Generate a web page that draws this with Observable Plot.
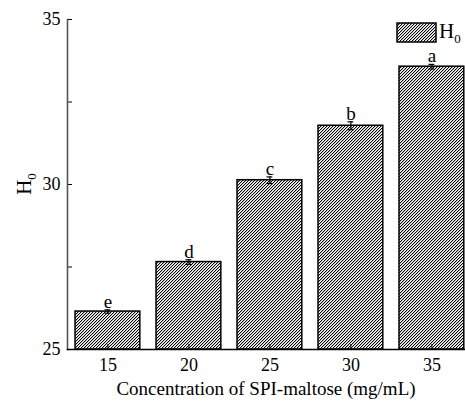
<!DOCTYPE html>
<html>
<head>
<meta charset="utf-8">
<script src="https://cdn.jsdelivr.net/npm/d3@7"></script>
<script src="https://cdn.jsdelivr.net/npm/@observablehq/plot@0.6"></script>
<style>
  body { margin: 0; background: #fff; }
  #chart svg { font-family: "Liberation Serif", "Times New Roman", serif; }
</style>
</head>
<body>
<div id="chart"></div>
<script>
// Surface hydrophobicity H0 by SPI-maltose concentration
const concentrations = ["15", "20", "25", "30", "35"];
const h0Values = [26.15, 27.65, 30.13, 31.78, 33.57];
const h0Errors = [0.05, 0.07, 0.10, 0.12, 0.07];
const sigLetters = ["e", "d", "c", "b", "a"];
const yTicks = [25, 27.5, 30, 32.5, 35];
const yTickLabels = ["25", "", "30", "", "35"];
const xTitle = "Concentration of SPI-maltose (mg/mL)";
const seriesName = "H";
const seriesSub = "0";

const rows = concentrations.map((c, i) => ({
  c, v: h0Values[i], e: h0Errors[i], s: sigLetters[i]
}));

const plot = Plot.plot({
  width: 465,
  height: 401,
  marginLeft: 67,
  marginRight: 0,
  marginTop: 19,
  marginBottom: 52,
  style: { fontFamily: "'Liberation Serif', 'Times New Roman', serif", fontSize: "18px", color: "black", background: "white", overflow: "visible" },
  x: { domain: concentrations, paddingInner: 0.2, paddingOuter: 0.057, align: 0.87, round: false, label: null, axis: null },
  y: { domain: [25, 35], label: null, axis: null },
  marks: [
    Plot.barY(rows, { x: "c", y1: 25, y2: "v", inset: 0, fill: "url(#hatch)", stroke: "black", strokeWidth: 1.5 }),
    Plot.ruleX(rows, { x: "c", y1: d => d.v - d.e, y2: d => d.v + d.e, stroke: "black", strokeWidth: 1.2 }),
    Plot.tickY(rows, { x: "c", y: d => d.v + d.e, inset: 29.5, stroke: "black", strokeWidth: 1.2 }),
    Plot.tickY(rows, { x: "c", y: d => d.v - d.e, inset: 29.5, stroke: "black", strokeWidth: 1.2 }),
    Plot.text(rows, { x: "c", y: d => d.v + d.e, text: "s", lineAnchor: "bottom", dy: -2, fontSize: 19, fill: "black" }),
    Plot.axisY({ ticks: yTicks, tickFormat: (d) => yTickLabels[yTicks.indexOf(d)], tickSize: -5, tickPadding: 12, stroke: "black", label: null }),
    Plot.axisX({ tickSize: -5, tickPadding: 14, label: null }),
    Plot.frame({ anchor: "left", stroke: "#555", strokeWidth: 1.6 }),
    Plot.frame({ anchor: "bottom", stroke: "black", strokeWidth: 1.6 })
  ]
});

const svg = d3.select(plot);

// pixel-aligned "/" hatch fill used by the bars and the legend swatch
const pat = svg.insert("defs", ":first-child")
  .append("pattern")
  .attr("id", "hatch")
  .attr("patternUnits", "userSpaceOnUse")
  .attr("width", 3)
  .attr("height", 3);
pat.append("rect").attr("width", 3).attr("height", 3).attr("fill", "white");
[[0, 2], [1, 1], [2, 0]].forEach(([cx, cy]) =>
  pat.append("rect").attr("x", cx).attr("y", cy).attr("width", 1).attr("height", 1)
    .attr("fill", "black").attr("shape-rendering", "crispEdges"));
[[1, 2], [2, 1], [0, 0]].forEach(([cx, cy]) =>
  pat.append("rect").attr("x", cx).attr("y", cy).attr("width", 1).attr("height", 1)
    .attr("fill", "#bdbdbd").attr("shape-rendering", "crispEdges"));

const yScale = plot.scale("y");
const x0 = 67, x1 = 465;

// y-axis title with subscript
const yt = svg.append("text")
  .attr("transform", `translate(31,${(yScale.apply(25) + yScale.apply(35)) / 2}) rotate(-90)`)
  .attr("text-anchor", "middle")
  .attr("fill", "black")
  .attr("font-size", 21);
yt.append("tspan").text(seriesName);
yt.append("tspan").attr("font-size", 13).attr("dy", 5).text(seriesSub);

// x-axis title
svg.append("text")
  .attr("x", (x0 + x1) / 2)
  .attr("y", 395)
  .attr("text-anchor", "middle")
  .attr("fill", "black")
  .attr("font-size", 19)
  .text(xTitle);

// legend
const lg = svg.append("g").attr("transform", "translate(397,23)");
lg.append("rect").attr("width", 39).attr("height", 19)
  .attr("fill", "url(#hatch)").attr("stroke", "black").attr("stroke-width", 1.5);
const lt = lg.append("text").attr("x", 42).attr("y", 15)
  .attr("text-anchor", "start").attr("fill", "black").attr("font-size", 21);
lt.append("tspan").text(seriesName);
lt.append("tspan").attr("font-size", 13).attr("dy", 5).text(seriesSub);

document.getElementById("chart").appendChild(plot);
</script>
</body>
</html>
